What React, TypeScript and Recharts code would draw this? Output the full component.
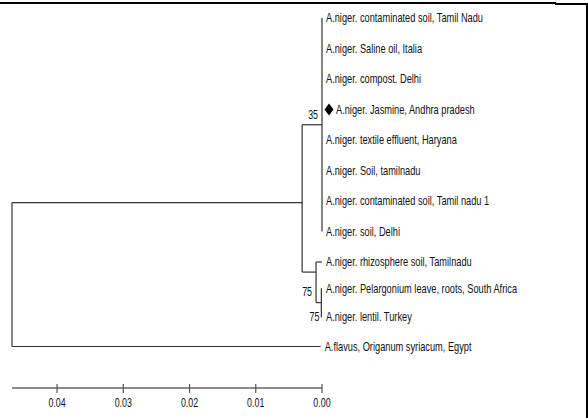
import React from "react";
import { ScatterChart, XAxis, YAxis, ReferenceLine, ReferenceDot } from "recharts";

// ---- data ----
const leafNames = [
  "A.niger. contaminated soil, Tamil Nadu",
  "A.niger. Saline oil, Italia",
  "A.niger. compost. Delhi",
  "A.niger. Jasmine, Andhra pradesh",
  "A.niger. textile effluent, Haryana",
  "A.niger. Soil, tamilnadu",
  "A.niger. contaminated soil, Tamil nadu 1",
  "A.niger. soil, Delhi",
  "A.niger. rhizosphere soil, Tamilnadu",
  "A.niger. Pelargonium leave, roots, South Africa",
  "A.niger. lentil. Turkey",
  "A.flavus, Origanum syriacum, Egypt",
];
const leafRows = [0, 1, 2, 3, 4, 5, 6, 7, 8, 8.87, 9.8, 10.77];
const leafDist = [0, 0, 0, 0, 0, 0, 0, 0, 0, 0, 0, 0.0002];
const markedLeaf = 3;

const nodeIds = ["root", "A", "B", "C", "D"];
const nodeDist = [0.0468, 0.003, 0, 0.0009, 0.0001];
const nodeRows = [8.41, 6.05, 3.5, 8.33, 9.33];
const nodeChildren = [
  ["A", "L11"],
  ["B", "C"],
  ["L0", "L1", "L2", "L3", "L4", "L5", "L6", "L7"],
  ["L8", "D"],
  ["L9", "L10"],
];
const nodeBootstrap: (number | null)[] = [null, null, 35, 75, 75];

const scaleTicks = [0.04, 0.03, 0.02, 0.01, 0.0];
const axisMax = 0.0468;
const rowMax = 12.13;

// ---- styles ----
const FONT = "'Liberation Sans', Arial, sans-serif";
const SX = 0.74;
const bootstrapOffsets: Record<string, [number, number]> = {
  B: [-4, -6],
  C: [-4, 24],
  D: [-2, 18],
};

function pos(id: string) {
  if (id.startsWith("L")) {
    const i = Number(id.slice(1));
    return { x: leafDist[i], y: leafRows[i] };
  }
  const k = nodeIds.indexOf(id);
  return { x: nodeDist[k], y: nodeRows[k] };
}

const segments: { x: number; y: number }[][] = [];
nodeIds.forEach((id, k) => {
  const kids = nodeChildren[k].map(pos);
  const ys = kids.map((c) => c.y);
  segments.push([
    { x: nodeDist[k], y: Math.min(...ys) },
    { x: nodeDist[k], y: Math.max(...ys) },
  ]);
  kids.forEach((c) => {
    if (c.x !== nodeDist[k]) {
      segments.push([
        { x: nodeDist[k], y: c.y },
        { x: c.x, y: c.y },
      ]);
    }
  });
});

const NarrowText = ({ x, y, anchor, size, children }: any) => (
  <g transform={`translate(${x},${y}) scale(${SX},1)`}>
    <text x={0} y={0} fontSize={size} fontFamily={FONT} textAnchor={anchor || "start"} fill="#111">
      {children}
    </text>
  </g>
);

const makeLeafShape = (name: string, marked: boolean) => (props: any) => {
  const { cx, cy } = props;
  if (cx == null || cy == null) return <g />;
  if (marked) {
    return (
      <g>
        <polygon
          points={`${cx + 7},${cy - 6} ${cx + 11.5},${cy} ${cx + 7},${cy + 6} ${cx + 2.5},${cy}`}
          fill="#000"
        />
        <NarrowText x={cx + 14} y={cy + 4} size={12.5}>
          {name}
        </NarrowText>
      </g>
    );
  }
  return (
    <NarrowText x={cx + 4} y={cy + 4} size={12.5}>
      {name}
    </NarrowText>
  );
};

const makeBootShape = (id: string, value: number) => (props: any) => {
  const { cx, cy } = props;
  if (cx == null || cy == null) return <g />;
  const off = bootstrapOffsets[id] || [-4, -6];
  return (
    <NarrowText x={cx + off[0]} y={cy + off[1]} size={12} anchor="end">
      {value}
    </NarrowText>
  );
};

const ScaleTick = (props: any) => {
  const { x, y, payload } = props;
  return (
    <g>
      <line x1={x} x2={x} y1={y - 4} y2={y + 5} stroke="#555" strokeWidth={1.2} />
      <NarrowText x={x} y={y + 19} size={12} anchor="middle">
        {Number(payload.value).toFixed(2)}
      </NarrowText>
    </g>
  );
};

export default function App() {
  return (
    <div style={{ position: "absolute", left: 0, top: 0, width: 588, height: 418, background: "#fff" }}>
      <ScatterChart width={588} height={418} margin={{ top: 18, right: 266, bottom: 0, left: 12 }}>
        <XAxis
          type="number"
          dataKey="x"
          domain={[0, axisMax]}
          allowDataOverflow
          reversed
          ticks={scaleTicks}
          interval={0}
          height={30}
          tickSize={0}
          tickMargin={0}
          tickLine={false}
          axisLine={{ stroke: "#666", strokeWidth: 1.5 }}
          tick={<ScaleTick />}
        />
        <YAxis type="number" dataKey="y" domain={[0, rowMax]} allowDataOverflow reversed hide />
        {segments.map((s, i) => (
          <ReferenceLine key={"s" + i} segment={s} stroke="#333" strokeWidth={1.2} ifOverflow="visible" />
        ))}
        {leafNames.map((name, i) => (
          <ReferenceDot
            key={"l" + i}
            x={leafDist[i]}
            y={leafRows[i]}
            r={0}
            ifOverflow="visible"
            shape={makeLeafShape(name, i === markedLeaf)}
          />
        ))}
        {nodeIds.map((id, k) =>
          nodeBootstrap[k] === null ? null : (
            <ReferenceDot
              key={"b" + k}
              x={nodeDist[k]}
              y={nodeRows[k]}
              r={0}
              ifOverflow="visible"
              shape={makeBootShape(id, nodeBootstrap[k] as number)}
            />
          )
        )}
      </ScatterChart>
      <div style={{ position: "absolute", left: 0, top: 2, width: 556, height: 1.5, background: "#000" }} />
      <div style={{ position: "absolute", left: 0, top: 1.5, width: 5, height: 2.5, background: "#000" }} />
      <div style={{ position: "absolute", left: 555, top: 3, width: 33, height: 2, background: "#000" }} />
      <div style={{ position: "absolute", left: 586, top: 3, width: 2, height: 415, background: "#000" }} />
    </div>
  );
}
